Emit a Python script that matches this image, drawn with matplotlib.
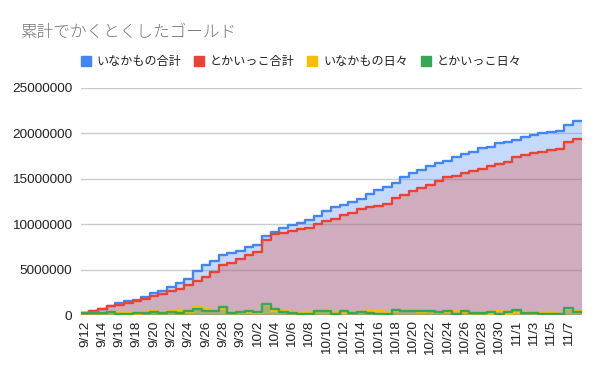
import numpy as np
import matplotlib.pyplot as plt
from matplotlib.lines import Line2D

# DATA (values in millions of gold)
dates = ["9/12", "9/13", "9/14", "9/15", "9/16", "9/17", "9/18", "9/19", "9/20", "9/21",
         "9/22", "9/23", "9/24", "9/25", "9/26", "9/27", "9/28", "9/29", "9/30",
         "10/1", "10/2", "10/3", "10/4", "10/5", "10/6", "10/7", "10/8", "10/9", "10/10",
         "10/11", "10/12", "10/13", "10/14", "10/15", "10/16", "10/17", "10/18", "10/19", "10/20",
         "10/21", "10/22", "10/23", "10/24", "10/25", "10/26", "10/27", "10/28", "10/29", "10/30",
         "10/31", "11/1", "11/2", "11/3", "11/4", "11/5", "11/6", "11/7", "11/8"]

inaka_total = [0.25, 0.44, 0.70, 1.00, 1.32, 1.50, 1.65, 1.95, 2.40, 2.64,
               3.05, 3.56, 3.93, 4.80, 5.50, 5.95, 6.57, 6.79, 7.08,
               7.45, 7.67, 8.73, 9.17, 9.61, 9.90, 10.17, 10.50, 10.90, 11.50,
               11.86, 12.11, 12.48, 12.78, 13.33, 13.77, 14.13, 14.57, 15.16, 15.67,
               15.97, 16.41, 16.70, 16.99, 17.43, 17.73, 17.99, 18.36, 18.50, 18.91,
               19.02, 19.27, 19.64, 19.82, 20.01, 20.19, 20.30, 20.93, 21.40]

tokai_total = [0.25, 0.44, 0.63, 1.00, 1.14, 1.30, 1.50, 1.76, 2.05, 2.28,
               2.64, 2.90, 3.30, 3.75, 4.15, 4.70, 5.50, 5.76, 6.17,
               6.60, 6.97, 8.26, 8.89, 9.07, 9.25, 9.43, 9.54, 9.98, 10.40,
               10.54, 11.01, 11.27, 11.64, 11.86, 12.00, 12.22, 12.85, 13.22, 13.66,
               13.95, 14.32, 14.76, 15.16, 15.31, 15.60, 15.86, 16.08, 16.45, 16.60,
               16.89, 17.43, 17.62, 17.80, 17.99, 18.17, 18.25, 19.09, 19.38]

inaka_daily = [0.25, 0.19, 0.26, 0.30, 0.32, 0.18, 0.15, 0.30, 0.45, 0.24,
               0.41, 0.51, 0.37, 0.87, 0.70, 0.45, 0.62, 0.22, 0.29,
               0.37, 0.22, 1.06, 0.44, 0.44, 0.29, 0.27, 0.33, 0.40, 0.60,
               0.36, 0.25, 0.37, 0.30, 0.55, 0.44, 0.36, 0.44, 0.59, 0.51,
               0.30, 0.44, 0.29, 0.29, 0.44, 0.30, 0.26, 0.37, 0.14, 0.41,
               0.11, 0.25, 0.37, 0.18, 0.19, 0.18, 0.11, 0.63, 0.47]

tokai_daily = [0.25, 0.19, 0.19, 0.37, 0.14, 0.16, 0.20, 0.26, 0.29, 0.23,
               0.36, 0.26, 0.40, 0.66, 0.40, 0.48, 0.90, 0.26, 0.37,
               0.40, 0.37, 1.25, 0.63, 0.30, 0.18, 0.15, 0.11, 0.44, 0.40,
               0.14, 0.47, 0.26, 0.37, 0.22, 0.14, 0.12, 0.60, 0.45, 0.45,
               0.45, 0.45, 0.29, 0.40, 0.15, 0.40, 0.26, 0.22, 0.30, 0.15,
               0.29, 0.54, 0.19, 0.18, 0.15, 0.10, 0.08, 0.80, 0.29]

names = ["いなかもの合計", "とかいっこ合計", "いなかもの日々", "とかいっこ日々"]
colors = ["#4285f4", "#ea4335", "#fbbc04", "#34a853"]

jp = ["Noto Sans CJK JP", "DejaVu Sans"]
plt.rcParams["font.family"] = ["Liberation Sans", "DejaVu Sans"]

fig = plt.figure(figsize=(6, 3.71), dpi=100)
ax = fig.add_axes([80.7/600, 1-315/371, 500.8/600, 227/371])

edges = np.arange(len(dates)+1) - 0.5
series = [inaka_total, tokai_total, inaka_daily, tokai_daily]
for vals, c in zip(series, colors):
    v = np.array(vals)*1e6
    ax.stairs(v, edges, fill=True, color=c, alpha=0.3, lw=0, baseline=0, zorder=2)
    ax.stairs(v, edges, color=c, lw=1.7, baseline=None, zorder=3,
              joinstyle="round", capstyle="round")

ax.set_xlim(-0.5, len(dates)-0.5)
ax.set_ylim(0, 25000000)
ax.set_yticks(np.arange(0, 25000001, 5000000))
ax.set_yticklabels([str(int(t)) for t in np.arange(0, 25000001, 5000000)])
ax.set_xticks(np.arange(0, len(dates), 2))
ax.set_xticklabels(dates[::2], rotation=90, va="top")
ax.tick_params(axis="both", length=0, labelsize=9.7, colors="#222222")
ax.tick_params(axis="x", pad=4)
ax.tick_params(axis="y", pad=6)
for s in ax.spines.values():
    s.set_visible(False)
ax.grid(axis="y", color="#cccccc", lw=1, zorder=0)
ax.set_axisbelow(True)
ax.axhline(0, color="#333333", lw=1, zorder=1)

fig.text(20/600, 1-32/371, "累計でかくとくしたゴールド", family=jp, fontsize=12,
         weight="light", color="#757575", va="center", ha="left")

handles = [Line2D([], [], marker="s", ls="none", markersize=7.2, color=c) for c in colors]
fig.legend(handles, names, loc="center", bbox_to_anchor=(301/600, 1-62/371),
           ncol=4, frameon=False, prop={"family": jp, "size": 8.7},
           handlelength=0.9, handletextpad=0.45, columnspacing=1.0, labelcolor="#222222")

fig.savefig("out.png", dpi=100)
